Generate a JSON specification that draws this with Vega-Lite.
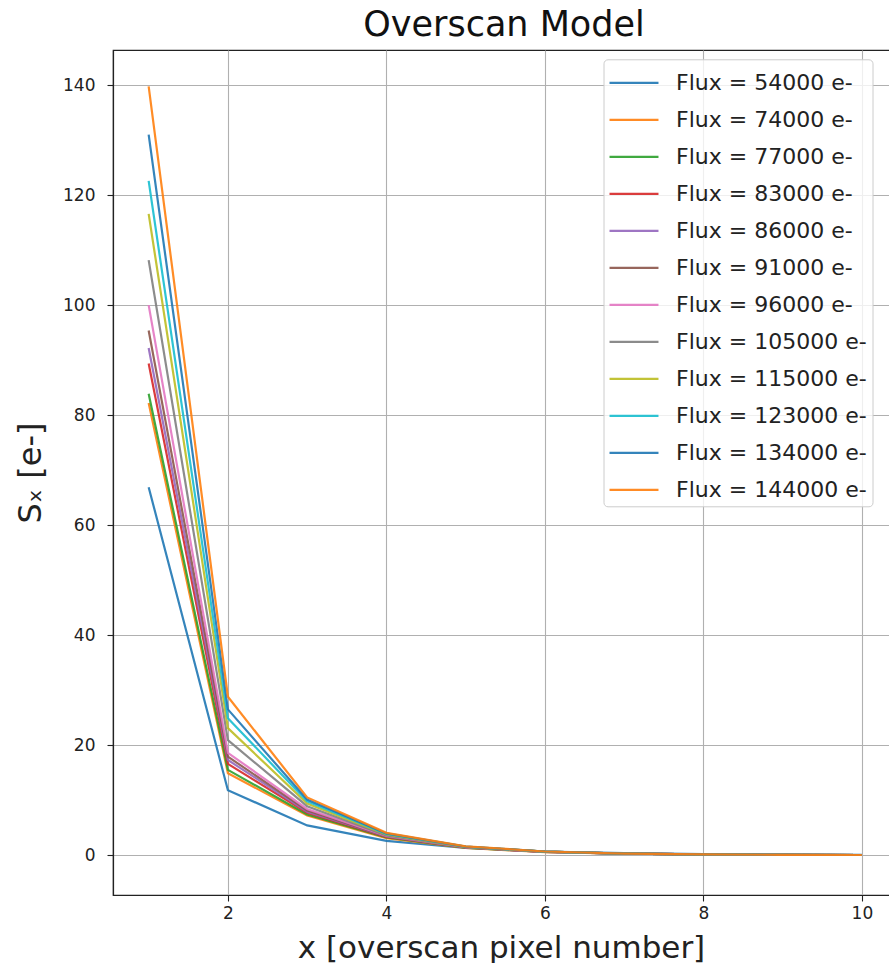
{
  "$schema": "https://vega.github.io/schema/vega-lite/v6.json",
  "autosize": {"type": "none"},
  "width": 776,
  "height": 845,
  "padding": {"left": 113, "top": 50, "right": 0, "bottom": 68},
  "background": "white",
  "title": {"text": "Overscan Model", "font": "DejaVu Sans", "fontSize": 35, "fontWeight": "normal", "color": "#111111", "anchor": "middle", "dx": 3, "offset": 7},
  "config": {
    "view": {"stroke": "#222222", "strokeWidth": 1.2, "strokeDash": [776, 845, 1621]},
    "axis": {
      "labelFont": "DejaVu Sans", "labelFontSize": 17, "labelColor": "#222222",
      "titleFont": "DejaVu Sans", "titleFontSize": 31, "titleFontWeight": "normal", "titleColor": "#222222",
      "domainColor": "#222222", "domainWidth": 1.2,
      "tickColor": "#222222", "tickSize": 6, "tickWidth": 1.1,
      "grid": true, "gridColor": "#b0b0b0", "gridWidth": 1.1
    },
    "legend": {
      "orient": "none", "legendX": 490.5, "legendY": 9.3, "padding": 5,
      "symbolType": "M-1.44,0H1.44", "symbolSize": 1156, "symbolStrokeWidth": 2.2,
      "labelFont": "DejaVu Sans", "labelFontSize": 22, "labelColor": "#222222", "labelLimit": 400,
      "labelOffset": 23.5, "symbolOffset": 7, "rowPadding": 7,
      "fillColor": "rgba(255,255,255,0.8)", "strokeColor": "#cccccc", "cornerRadius": 4
    }
  },
  "data": {"values": [
    {"series": "Flux = 54000 e-", "x": 1, "s": 66.9}, {"series": "Flux = 54000 e-", "x": 2, "s": 11.8}, {"series": "Flux = 54000 e-", "x": 3, "s": 5.4}, {"series": "Flux = 54000 e-", "x": 4, "s": 2.6}, {"series": "Flux = 54000 e-", "x": 5, "s": 1.3}, {"series": "Flux = 54000 e-", "x": 6, "s": 0.65}, {"series": "Flux = 54000 e-", "x": 7, "s": 0.35}, {"series": "Flux = 54000 e-", "x": 8, "s": 0.18}, {"series": "Flux = 54000 e-", "x": 9, "s": 0.09}, {"series": "Flux = 54000 e-", "x": 10, "s": 0.05},
    {"series": "Flux = 74000 e-", "x": 1, "s": 82.2}, {"series": "Flux = 74000 e-", "x": 2, "s": 14.9}, {"series": "Flux = 74000 e-", "x": 3, "s": 7.2}, {"series": "Flux = 74000 e-", "x": 4, "s": 3.1}, {"series": "Flux = 74000 e-", "x": 5, "s": 1.3}, {"series": "Flux = 74000 e-", "x": 6, "s": 0.55}, {"series": "Flux = 74000 e-", "x": 7, "s": 0.25}, {"series": "Flux = 74000 e-", "x": 8, "s": 0.11}, {"series": "Flux = 74000 e-", "x": 9, "s": 0.05}, {"series": "Flux = 74000 e-", "x": 10, "s": 0.02},
    {"series": "Flux = 77000 e-", "x": 1, "s": 83.9}, {"series": "Flux = 77000 e-", "x": 2, "s": 15.5}, {"series": "Flux = 77000 e-", "x": 3, "s": 7.4}, {"series": "Flux = 77000 e-", "x": 4, "s": 3.2}, {"series": "Flux = 77000 e-", "x": 5, "s": 1.35}, {"series": "Flux = 77000 e-", "x": 6, "s": 0.57}, {"series": "Flux = 77000 e-", "x": 7, "s": 0.26}, {"series": "Flux = 77000 e-", "x": 8, "s": 0.11}, {"series": "Flux = 77000 e-", "x": 9, "s": 0.05}, {"series": "Flux = 77000 e-", "x": 10, "s": 0.02},
    {"series": "Flux = 83000 e-", "x": 1, "s": 89.4}, {"series": "Flux = 83000 e-", "x": 2, "s": 16.6}, {"series": "Flux = 83000 e-", "x": 3, "s": 7.7}, {"series": "Flux = 83000 e-", "x": 4, "s": 3.3}, {"series": "Flux = 83000 e-", "x": 5, "s": 1.4}, {"series": "Flux = 83000 e-", "x": 6, "s": 0.6}, {"series": "Flux = 83000 e-", "x": 7, "s": 0.27}, {"series": "Flux = 83000 e-", "x": 8, "s": 0.12}, {"series": "Flux = 83000 e-", "x": 9, "s": 0.05}, {"series": "Flux = 83000 e-", "x": 10, "s": 0.02},
    {"series": "Flux = 86000 e-", "x": 1, "s": 92.2}, {"series": "Flux = 86000 e-", "x": 2, "s": 17.3}, {"series": "Flux = 86000 e-", "x": 3, "s": 7.9}, {"series": "Flux = 86000 e-", "x": 4, "s": 3.4}, {"series": "Flux = 86000 e-", "x": 5, "s": 1.4}, {"series": "Flux = 86000 e-", "x": 6, "s": 0.6}, {"series": "Flux = 86000 e-", "x": 7, "s": 0.27}, {"series": "Flux = 86000 e-", "x": 8, "s": 0.12}, {"series": "Flux = 86000 e-", "x": 9, "s": 0.05}, {"series": "Flux = 86000 e-", "x": 10, "s": 0.02},
    {"series": "Flux = 91000 e-", "x": 1, "s": 95.4}, {"series": "Flux = 91000 e-", "x": 2, "s": 17.9}, {"series": "Flux = 91000 e-", "x": 3, "s": 8.1}, {"series": "Flux = 91000 e-", "x": 4, "s": 3.45}, {"series": "Flux = 91000 e-", "x": 5, "s": 1.45}, {"series": "Flux = 91000 e-", "x": 6, "s": 0.62}, {"series": "Flux = 91000 e-", "x": 7, "s": 0.28}, {"series": "Flux = 91000 e-", "x": 8, "s": 0.12}, {"series": "Flux = 91000 e-", "x": 9, "s": 0.05}, {"series": "Flux = 91000 e-", "x": 10, "s": 0.02},
    {"series": "Flux = 96000 e-", "x": 1, "s": 100.0}, {"series": "Flux = 96000 e-", "x": 2, "s": 18.6}, {"series": "Flux = 96000 e-", "x": 3, "s": 8.4}, {"series": "Flux = 96000 e-", "x": 4, "s": 3.5}, {"series": "Flux = 96000 e-", "x": 5, "s": 1.45}, {"series": "Flux = 96000 e-", "x": 6, "s": 0.62}, {"series": "Flux = 96000 e-", "x": 7, "s": 0.28}, {"series": "Flux = 96000 e-", "x": 8, "s": 0.12}, {"series": "Flux = 96000 e-", "x": 9, "s": 0.05}, {"series": "Flux = 96000 e-", "x": 10, "s": 0.02},
    {"series": "Flux = 105000 e-", "x": 1, "s": 108.2}, {"series": "Flux = 105000 e-", "x": 2, "s": 20.9}, {"series": "Flux = 105000 e-", "x": 3, "s": 8.9}, {"series": "Flux = 105000 e-", "x": 4, "s": 3.6}, {"series": "Flux = 105000 e-", "x": 5, "s": 1.5}, {"series": "Flux = 105000 e-", "x": 6, "s": 0.63}, {"series": "Flux = 105000 e-", "x": 7, "s": 0.28}, {"series": "Flux = 105000 e-", "x": 8, "s": 0.12}, {"series": "Flux = 105000 e-", "x": 9, "s": 0.05}, {"series": "Flux = 105000 e-", "x": 10, "s": 0.02},
    {"series": "Flux = 115000 e-", "x": 1, "s": 116.6}, {"series": "Flux = 115000 e-", "x": 2, "s": 23.1}, {"series": "Flux = 115000 e-", "x": 3, "s": 9.4}, {"series": "Flux = 115000 e-", "x": 4, "s": 3.75}, {"series": "Flux = 115000 e-", "x": 5, "s": 1.5}, {"series": "Flux = 115000 e-", "x": 6, "s": 0.64}, {"series": "Flux = 115000 e-", "x": 7, "s": 0.28}, {"series": "Flux = 115000 e-", "x": 8, "s": 0.12}, {"series": "Flux = 115000 e-", "x": 9, "s": 0.05}, {"series": "Flux = 115000 e-", "x": 10, "s": 0.02},
    {"series": "Flux = 123000 e-", "x": 1, "s": 122.6}, {"series": "Flux = 123000 e-", "x": 2, "s": 24.9}, {"series": "Flux = 123000 e-", "x": 3, "s": 9.8}, {"series": "Flux = 123000 e-", "x": 4, "s": 3.85}, {"series": "Flux = 123000 e-", "x": 5, "s": 1.55}, {"series": "Flux = 123000 e-", "x": 6, "s": 0.65}, {"series": "Flux = 123000 e-", "x": 7, "s": 0.29}, {"series": "Flux = 123000 e-", "x": 8, "s": 0.13}, {"series": "Flux = 123000 e-", "x": 9, "s": 0.05}, {"series": "Flux = 123000 e-", "x": 10, "s": 0.02},
    {"series": "Flux = 134000 e-", "x": 1, "s": 131.0}, {"series": "Flux = 134000 e-", "x": 2, "s": 26.5}, {"series": "Flux = 134000 e-", "x": 3, "s": 10.1}, {"series": "Flux = 134000 e-", "x": 4, "s": 3.95}, {"series": "Flux = 134000 e-", "x": 5, "s": 1.55}, {"series": "Flux = 134000 e-", "x": 6, "s": 0.66}, {"series": "Flux = 134000 e-", "x": 7, "s": 0.29}, {"series": "Flux = 134000 e-", "x": 8, "s": 0.13}, {"series": "Flux = 134000 e-", "x": 9, "s": 0.05}, {"series": "Flux = 134000 e-", "x": 10, "s": 0.02},
    {"series": "Flux = 144000 e-", "x": 1, "s": 139.8}, {"series": "Flux = 144000 e-", "x": 2, "s": 28.8}, {"series": "Flux = 144000 e-", "x": 3, "s": 10.5}, {"series": "Flux = 144000 e-", "x": 4, "s": 4.05}, {"series": "Flux = 144000 e-", "x": 5, "s": 1.6}, {"series": "Flux = 144000 e-", "x": 6, "s": 0.66}, {"series": "Flux = 144000 e-", "x": 7, "s": 0.29}, {"series": "Flux = 144000 e-", "x": 8, "s": 0.13}, {"series": "Flux = 144000 e-", "x": 9, "s": 0.05}, {"series": "Flux = 144000 e-", "x": 10, "s": 0.02}
  ]},
  "mark": {"type": "line", "strokeWidth": 2.2, "opacity": 0.9},
  "encoding": {
    "x": {"field": "x", "type": "quantitative", "scale": {"domain": [0.55, 10.342], "nice": false, "zero": false},
      "axis": {"values": [2, 4, 6, 8, 10], "title": "x [overscan pixel number]", "labelPadding": 4, "titlePadding": 12}},
    "y": {"field": "s", "type": "quantitative", "scale": {"domain": [-7.25, 146.4], "nice": false, "zero": false},
      "axis": {"values": [0, 20, 40, 60, 80, 100, 120, 140], "title": "Sₓ [e-]", "labelPadding": 12, "titlePadding": 15, "titleFontSize": 32}},
    "color": {"field": "series", "type": "nominal",
      "scale": {"domain": ["Flux = 54000 e-", "Flux = 74000 e-", "Flux = 77000 e-", "Flux = 83000 e-", "Flux = 86000 e-", "Flux = 91000 e-", "Flux = 96000 e-", "Flux = 105000 e-", "Flux = 115000 e-", "Flux = 123000 e-", "Flux = 134000 e-", "Flux = 144000 e-"],
        "range": ["#1f77b4", "#ff7f0e", "#2ca02c", "#d62728", "#9467bd", "#8c564b", "#e377c2", "#7f7f7f", "#bcbd22", "#17becf", "#1f77b4", "#ff7f0e"]},
      "sort": null,
      "legend": {"title": null}}
  }
}
